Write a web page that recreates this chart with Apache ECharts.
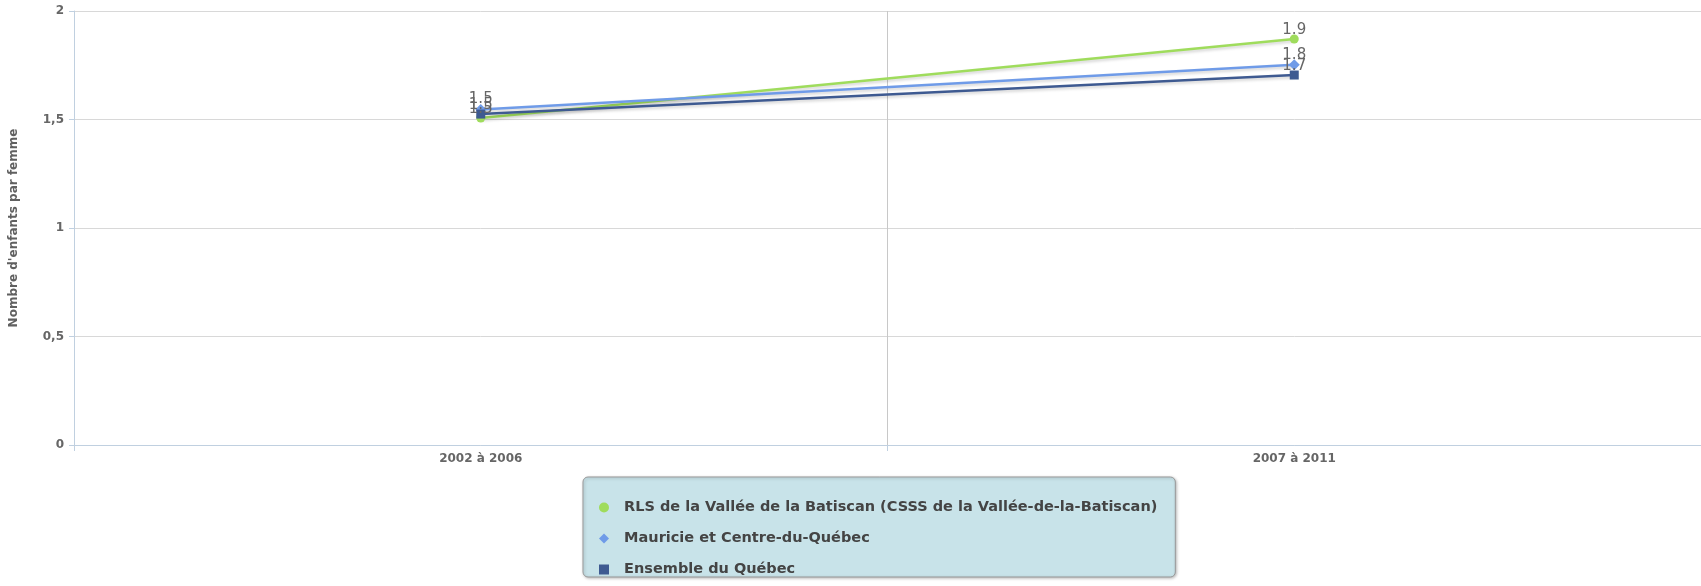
<!DOCTYPE html>
<html>
<head>
<meta charset="utf-8">
<script src="https://cdn.jsdelivr.net/npm/echarts@6/dist/echarts.min.js"></script>
<style>
  html, body { margin: 0; padding: 0; background: #fff; }
  #container { width: 1701px; height: 586px; }
</style>
</head>
<body>
<div id="container"></div>
<script>
// periodes et indice synthetique de fecondite
var periodes = ['2002 à 2006', '2007 à 2011'];
var rls = [1.507, 1.871];
var mauricie = [1.546, 1.752];
var quebec = [1.525, 1.705];
var nomsSeries = [
    'RLS de la Vallée de la Batiscan (CSSS de la Vallée-de-la-Batiscan)',
    'Mauricie et Centre-du-Québec',
    'Ensemble du Québec'
];
var couleurs = ['#9fdc5c', '#6f9be8', '#3e5a91'];

var dom = document.getElementById('container');
var myChart = echarts.init(dom);

// etiquette des points, arrondie a une decimale
function serie(nom, data, couleur, symbole, taille) {
    return {
        name: nom,
        type: 'line',
        data: data,
        symbol: symbole,
        symbolSize: taille,
        color: couleur,
        lineStyle: {
            width: 2.5,
            color: couleur,
            shadowColor: 'rgba(0,0,0,0.18)',
            shadowBlur: 3,
            shadowOffsetY: 2
        },
        itemStyle: { color: couleur },
        label: {
            show: true,
            position: 'top',
            distance: 0,
            offset: [0, 3],
            color: '#666',
            fontFamily: 'DejaVu Sans',
            fontSize: 15,
            formatter: function (p) { return p.value.toFixed(1); }
        },
        animation: false
    };
}

var option = {
    backgroundColor: '#fff',
    grid: { left: 74, right: 0, top: 11, bottom: 141 },
    legend: {
        orient: 'vertical',
        left: 583,
        top: 477,
        padding: [23, 18, 0, 16],
        itemGap: 16,
        itemWidth: 10,
        itemHeight: 10,
        backgroundColor: '#c8e3e9',
        borderColor: '#999',
        borderWidth: 1,
        borderRadius: 5,
        shadowColor: 'rgba(0,0,0,0.25)',
        shadowBlur: 3,
        shadowOffsetX: 1,
        shadowOffsetY: 1,
        // espace entre le symbole et le texte
        formatter: function (name) { return '  ' + name; },
        textStyle: {
            color: '#444',
            fontFamily: 'DejaVu Sans',
            fontWeight: 'bold',
            fontSize: 14.5
        },
        data: [
            { name: nomsSeries[0], icon: 'circle' },
            { name: nomsSeries[1], icon: 'diamond' },
            { name: nomsSeries[2], icon: 'rect' }
        ]
    },
    xAxis: {
        type: 'category',
        data: periodes,
        boundaryGap: true,
        axisLine: { lineStyle: { color: '#c0d0e0', width: 1 } },
        axisTick: { show: true, length: 6, lineStyle: { color: '#c0d0e0' } },
        splitLine: { show: true, lineStyle: { color: '#c8c8c8', width: 1 } },
        axisLabel: {
            margin: 8,
            color: '#666',
            fontFamily: 'DejaVu Sans',
            fontWeight: 'bold',
            fontSize: 12
        }
    },
    yAxis: {
        type: 'value',
        min: 0,
        max: 2,
        interval: 0.5,
        name: "Nombre d'enfants par femme",
        nameLocation: 'middle',
        nameGap: 54,
        nameTextStyle: {
            color: '#606060',
            fontFamily: 'DejaVu Sans',
            fontWeight: 'bold',
            fontSize: 12
        },
        axisLine: { show: true, lineStyle: { color: '#c0d0e0' } },
        axisTick: { show: true, length: 5, lineStyle: { color: '#c0d0e0' } },
        splitLine: { lineStyle: { color: '#d8d8d8', width: 1 } },
        axisLabel: {
            margin: 10,
            color: '#666',
            fontFamily: 'DejaVu Sans',
            fontWeight: 'bold',
            fontSize: 12,
            formatter: function (v) { return String(v).replace('.', ','); }
        }
    },
    series: [
        serie(nomsSeries[0], rls, couleurs[0], 'circle', 9),
        serie(nomsSeries[1], mauricie, couleurs[1], 'diamond', 11),
        serie(nomsSeries[2], quebec, couleurs[2], 'rect', 9)
    ]
};

myChart.setOption(option, true);
</script>
</body>
</html>
